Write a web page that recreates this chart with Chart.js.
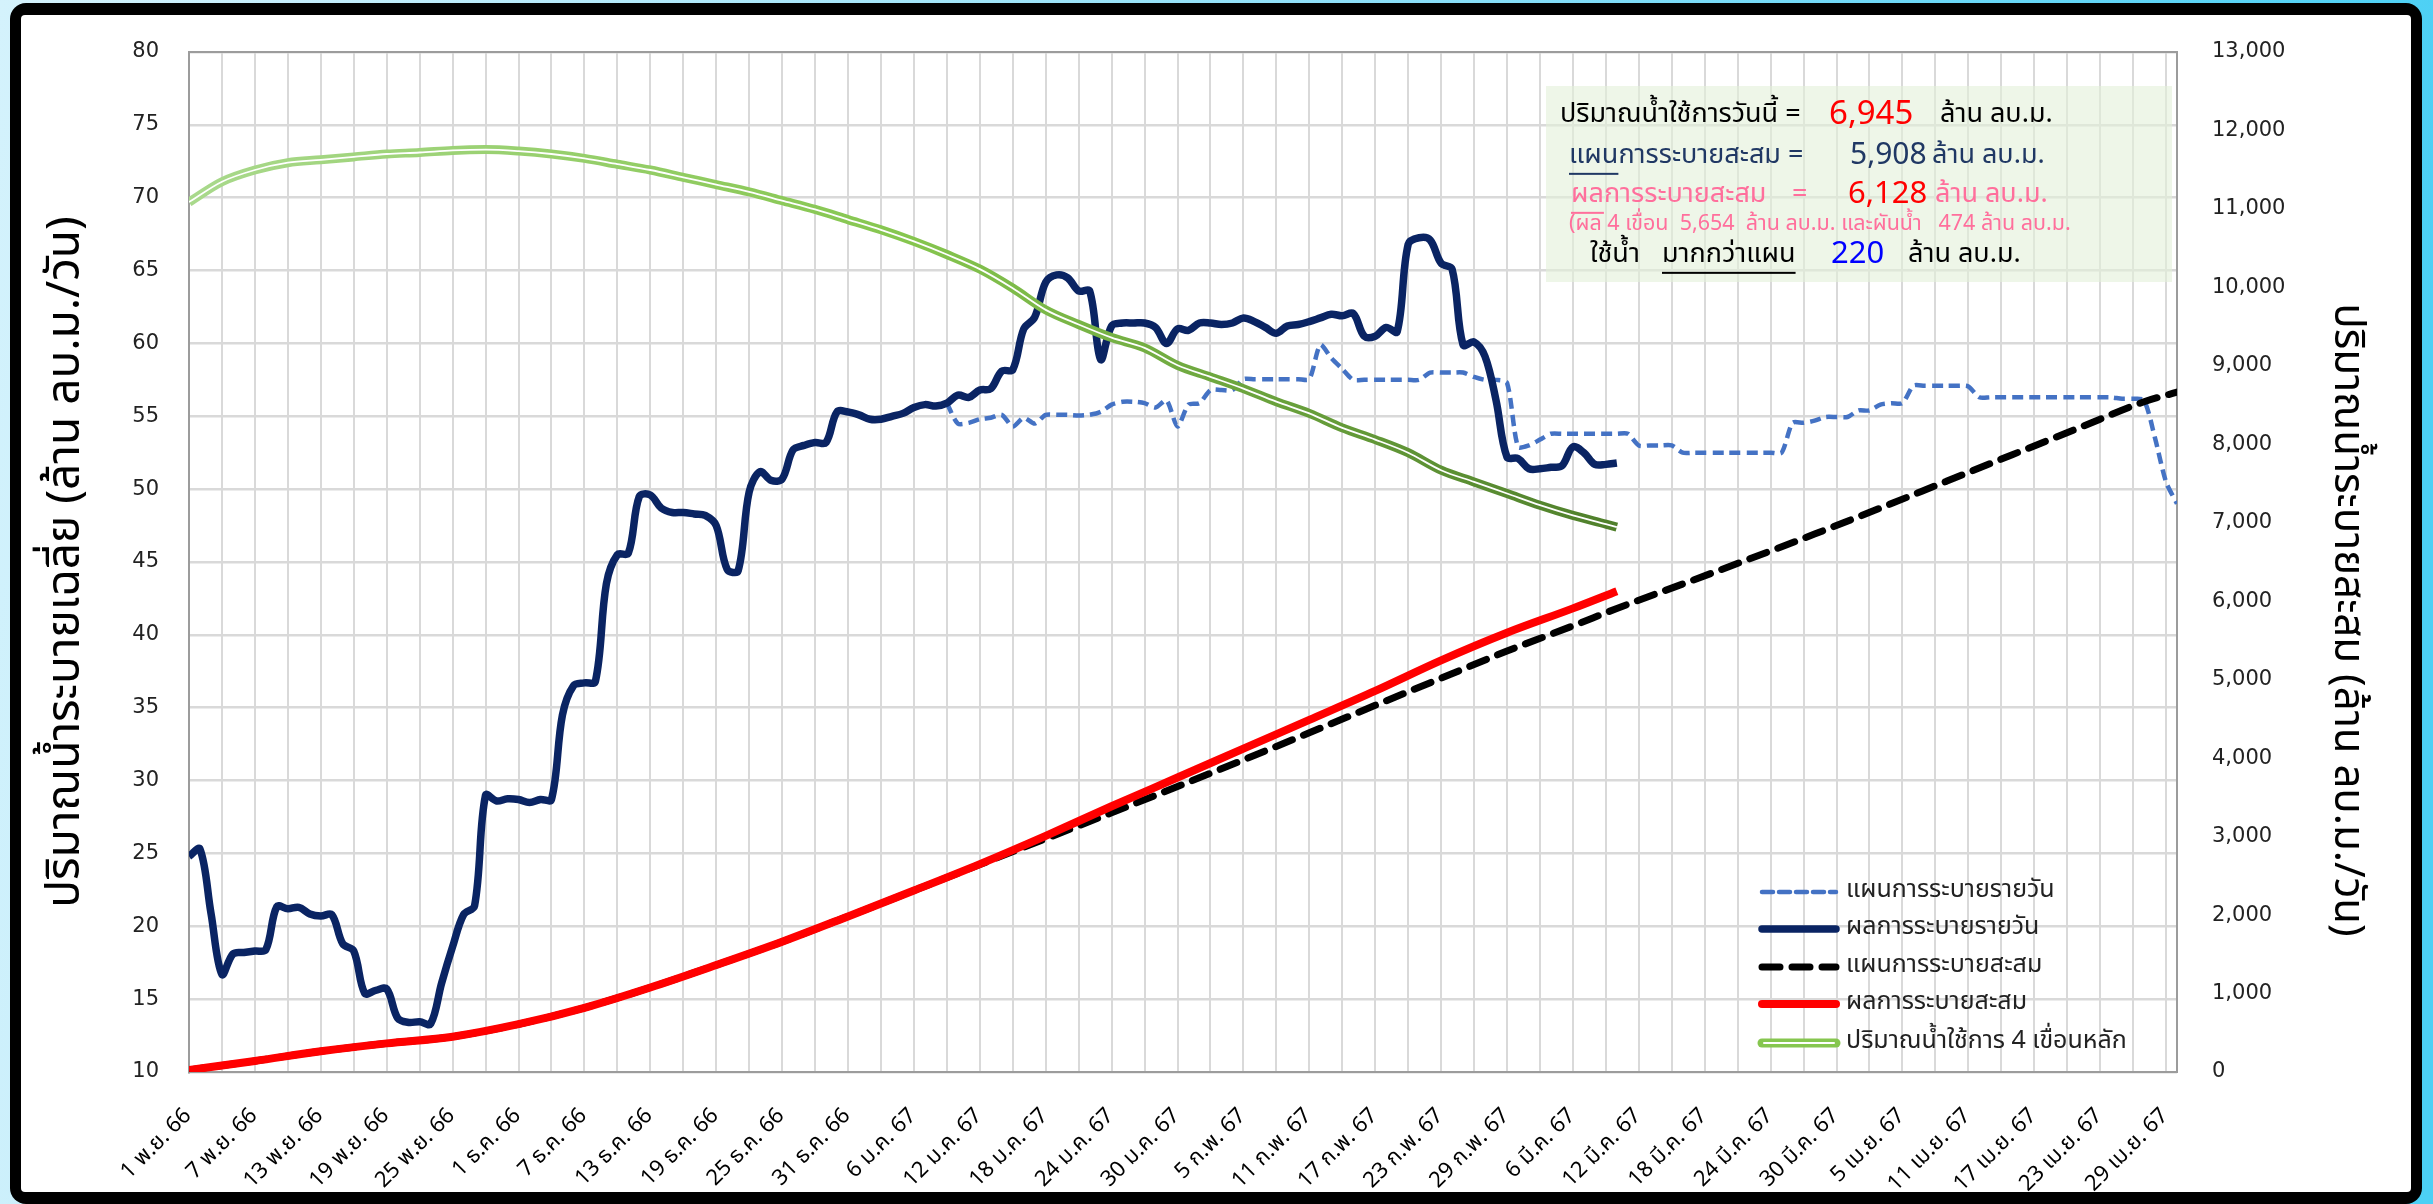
<!DOCTYPE html>
<html>
<head>
<meta charset="utf-8">
<script src="https://cdn.jsdelivr.net/npm/chart.js@4.4.1/dist/chart.umd.min.js"></script>
<style>
html, body { margin: 0; padding: 0; background: #fff; }
#wrap { width: 2433px; height: 1204px; }
</style>
</head>
<body>
<div id="wrap"><canvas id="myChart" width="2433" height="1204"></canvas></div>
<script>
// x axis: day index from 1 Nov 66, labels every 6 days
var tickLabels = [
    '1 พ.ย. 66', '7 พ.ย. 66', '13 พ.ย. 66', '19 พ.ย. 66', '25 พ.ย. 66',
    '1 ธ.ค. 66', '7 ธ.ค. 66', '13 ธ.ค. 66', '19 ธ.ค. 66', '25 ธ.ค. 66', '31 ธ.ค. 66',
    '6 ม.ค. 67', '12 ม.ค. 67', '18 ม.ค. 67', '24 ม.ค. 67', '30 ม.ค. 67',
    '5 ก.พ. 67', '11 ก.พ. 67', '17 ก.พ. 67', '23 ก.พ. 67', '29 ก.พ. 67',
    '6 มี.ค. 67', '12 มี.ค. 67', '18 มี.ค. 67', '24 มี.ค. 67', '30 มี.ค. 67',
    '5 เม.ย. 67', '11 เม.ย. 67', '17 เม.ย. 67', '23 เม.ย. 67', '29 เม.ย. 67'
];
var lastDay = 181;

// ผลการระบายรายวัน (ล้าน ลบ.ม./วัน), from day 0
var dailyResult = [
    24.8, 25.3, 20.9, 16.7, 18.1, 18.2, 18.3, 18.4, 21.35, 21.2,
    21.3, 20.85, 20.7, 20.8, 18.8, 18.3, 15.4, 15.6, 15.7, 13.7,
    13.4, 13.45, 13.3, 16.1, 18.6, 20.8, 21.4, 29.0, 28.6, 28.75,
    28.7, 28.5, 28.7, 28.7, 34.5, 36.5, 36.7, 36.8, 43.5, 45.5,
    45.6, 49.5, 49.6, 48.7, 48.4, 48.4, 48.3, 48.2, 47.5, 44.5,
    44.4, 49.8, 51.2, 50.6, 50.7, 52.7, 53.0, 53.2, 53.2, 55.3,
    55.3, 55.1, 54.8, 54.8, 55.0, 55.2, 55.6, 55.8, 55.7, 55.9,
    56.45, 56.3, 56.8, 56.9, 58.1, 58.2, 61.0, 61.8, 64.2, 64.7,
    64.5, 63.6, 63.6, 58.9, 61.2, 61.4, 61.4, 61.4, 61.1, 60.0,
    61.0, 60.9, 61.4, 61.4, 61.3, 61.4, 61.75, 61.5, 61.1, 60.7,
    61.2, 61.3, 61.5, 61.75, 62.0, 61.9, 62.05, 60.5, 60.5, 61.1,
    60.8, 66.8, 67.25, 67.1, 65.5, 65.1, 59.9, 60.1, 59.1, 56.1,
    52.2, 52.1, 51.4, 51.4, 51.5, 51.6, 52.9, 52.5, 51.7, 51.7, 51.8
];

// แผนการระบายรายวัน, from day 69
var planStart = 69;
var dailyPlan = [
    55.9, 54.5, 54.55, 54.8, 54.9, 55.1, 54.3, 54.9, 54.5, 55.1,
    55.1, 55.1, 55.05, 55.1, 55.3, 55.8, 56.0, 56.0, 55.9, 55.6,
    56.1, 54.3, 55.8, 55.9, 56.8, 56.8, 56.8, 57.55, 57.55, 57.55,
    57.55, 57.55, 57.55, 57.55, 59.9, 59.0, 58.25, 57.5, 57.5, 57.5,
    57.5, 57.5, 57.5, 57.5, 58.0, 58.0, 58.0, 58.0, 57.7, 57.5,
    57.5, 57.3, 52.9, 53.0, 53.4, 53.8, 53.8, 53.8, 53.8, 53.8,
    53.8, 53.8, 53.8, 53.0, 53.0, 53.0, 53.0, 52.5, 52.5, 52.5,
    52.5, 52.5, 52.5, 52.5, 52.5, 52.5, 52.5, 54.55, 54.55, 54.7,
    54.95, 54.95, 54.95, 55.4, 55.4, 55.8, 55.9, 55.9, 57.1, 57.1,
    57.1, 57.1, 57.1, 57.05, 56.3, 56.3, 56.3, 56.3, 56.3, 56.3,
    56.3, 56.3, 56.3, 56.3, 56.3, 56.3, 56.3, 56.2, 56.2, 56.1,
    53.5, 50.5, 49.0
];

// ผลการระบายสะสม (ล้าน ลบ.ม.)
var cumResultDays = [0, 6, 12, 18, 24, 30, 36, 42, 48, 54, 60, 66, 72, 78, 84, 90, 96, 102, 108, 114, 120, 126, 130];
var cumResult = [25, 141, 264, 365, 450, 609, 818, 1077, 1363, 1660, 1983, 2313, 2650, 3010, 3387, 3753, 4121, 4488, 4857, 5246, 5598, 5909, 6128];

// แผนการระบายสะสม (ล้าน ลบ.ม.)
var cumPlanDays = [0, 6, 12, 18, 24, 30, 36, 42, 48, 54, 60, 66, 72, 78, 84, 90, 96, 102, 108, 114, 120, 126, 130,
    136, 142, 148, 154, 160, 166, 172, 178, 181];
var cumPlan = [25, 141, 264, 365, 450, 609, 818, 1077, 1363, 1660, 1983, 2313, 2644, 2973, 3304, 3638, 3978, 4323, 4673, 5019, 5365, 5686, 5908,
    6220, 6535, 6856, 7188, 7528, 7867, 8205, 8542, 8665];

// ปริมาณน้ำใช้การ 4 เขื่อนหลัก (ล้าน ลบ.ม.)
var storageDays = [0, 3, 6, 9, 12, 15, 18, 21, 24, 27, 30, 33, 36, 39, 42, 45, 48, 51, 54, 57, 60, 63, 66, 69, 72, 75, 78,
    81, 84, 87, 90, 93, 96, 99, 102, 105, 108, 111, 114, 117, 120, 123, 126, 129, 130];
var storage = [11087, 11347, 11496, 11589, 11626, 11663, 11700, 11719, 11746, 11756, 11737, 11700, 11644, 11570, 11496,
    11403, 11310, 11217, 11106, 10994, 10864, 10734, 10586, 10419, 10233, 9990, 9713, 9527, 9360, 9230, 9007,
    8859, 8710, 8543, 8394, 8209, 8060, 7893, 7670, 7521, 7373, 7224, 7094, 6983, 6945];

var THAI = "'Noto Sans Thai', 'Leelawadee UI', Tahoma, 'Noto Sans', 'DejaVu Sans', sans-serif";
var NUM = "Tahoma, 'DejaVu Sans', sans-serif";

function series(start, values) {
    var pts = [];
    for (var i = 0; i < values.length; i++) pts.push({x: start + i, y: values[i]});
    return pts;
}

function pairs(days, values) {
    var pts = [];
    for (var i = 0; i < days.length; i++) pts.push({x: days[i], y: values[i]});
    return pts;
}

function storageColor(context) {
    var chart = context.chart;
    var area = chart.chartArea;
    if (!area) return '#92D050';
    var g = chart.ctx.createLinearGradient(area.left, 0, chart.scales.x.getPixelForValue(130), 0);
    g.addColorStop(0, '#A9D98C');
    g.addColorStop(0.5, '#86C64F');
    g.addColorStop(1, '#4F7F2B');
    return g;
}

var framePlugin = {
    id: 'frame',
    beforeDraw: function(chart) {
        var c = chart.ctx, w = chart.width, h = chart.height;
        c.save();
        var bg = c.createLinearGradient(0, 0, w, 300);
        bg.addColorStop(0, '#D4F2FC');
        bg.addColorStop(0.6, '#86DDF7');
        bg.addColorStop(1, '#4CD0F5');
        c.fillStyle = bg;
        c.fillRect(0, 0, w, h);
        c.fillStyle = '#000';
        c.beginPath();
        c.roundRect(10, 3, 2412, 1201, 16);
        c.fill();
        c.fillStyle = '#fff';
        c.beginPath();
        c.roundRect(21, 15, 2390, 1177, 4);
        c.fill();
        c.restore();
    }
};

// summary box behind the lines
var summaryPlugin = {
    id: 'summary',
    beforeDatasetsDraw: function(chart) {
        var c = chart.ctx;
        var a = chart.chartArea;
        c.save();
        c.strokeStyle = '#9C9C9C';
        c.lineWidth = 2;
        c.strokeRect(a.left, a.top, a.right - a.left, a.bottom - a.top);

        c.fillStyle = 'rgba(226, 240, 217, 0.6)';
        c.fillRect(1546, 86, 626, 196);

        var rows = [
            {y: 117, size: 27, parts: [
                ['ปริมาณน้ำใช้การวันนี้ =', '#000', 1560],
                ['6,945', '#FF0000', 1829, 33],
                ['ล้าน ลบ.ม.', '#000', 1940]]},
            {y: 158, size: 27, parts: [
                ['แผนการระบายสะสม =', '#203864', 1569, 0, 'แผน'],
                ['5,908', '#203864', 1850, 30],
                ['ล้าน ลบ.ม.', '#203864', 1932]]},
            {y: 197, size: 27, parts: [
                ['ผลการระบายสะสม', '#FF6F9C', 1571, 0, 'ผล'],
                ['=', '#FF6F9C', 1792],
                ['6,128', '#FF0000', 1848, 31],
                ['ล้าน ลบ.ม.', '#FF6F9C', 1935]]},
            {y: 226, size: 21.5, parts: [
                ['(ผล 4 เขื่อน  5,654  ล้าน ลบ.ม. และผันน้ำ   474 ล้าน ลบ.ม.', '#FF6F9C', 1569]]},
            {y: 257, size: 27, parts: [
                ['ใช้น้ำ', '#000', 1590],
                ['มากกว่าแผน', '#000', 1662, 0, 'มากกว่าแผน'],
                ['220', '#0000FF', 1831, 31],
                ['ล้าน ลบ.ม.', '#000', 1908]]}
        ];
        c.textBaseline = 'middle';
        c.textAlign = 'left';
        rows.forEach(function(row) {
            row.parts.forEach(function(p) {
                var size = p[3] || row.size;
                c.font = size + 'px ' + THAI;
                c.fillStyle = p[1];
                c.fillText(p[0], p[2], row.y);
                if (p[4]) {
                    var uw = c.measureText(p[4]).width;
                    c.fillRect(p[2], row.y + size * 0.55, uw, 2);
                }
            });
        });
        c.restore();
    }
};

var legendPlugin = {
    id: 'sideLegend',
    afterDatasetsDraw: function(chart) {
        var c = chart.ctx;
        var items = [
            {label: 'แผนการระบายรายวัน', color: '#4472C4', width: 4.5, dash: [11, 6]},
            {label: 'ผลการระบายรายวัน', color: '#0A2463', width: 7.5, dash: []},
            {label: 'แผนการระบายสะสม', color: '#000', width: 7, dash: [18, 12]},
            {label: 'ผลการระบายสะสม', color: '#FF0000', width: 8, dash: []},
            {label: 'ปริมาณน้ำใช้การ 4 เขื่อนหลัก', color: '#86C64F', width: 9, dash: [], double: true}
        ];
        var ys = [892, 929, 967, 1004, 1043];
        c.save();
        c.lineCap = 'round';
        items.forEach(function(it, i) {
            c.setLineDash(it.dash);
            c.strokeStyle = it.color;
            c.lineWidth = it.width;
            c.beginPath();
            c.moveTo(1762, ys[i]);
            c.lineTo(1836, ys[i]);
            c.stroke();
            if (it.double) {
                c.strokeStyle = '#fff';
                c.lineWidth = 2;
                c.beginPath();
                c.moveTo(1764, ys[i]);
                c.lineTo(1834, ys[i]);
                c.stroke();
            }
            c.setLineDash([]);
            c.fillStyle = '#222';
            c.font = '25px ' + THAI;
            c.textBaseline = 'middle';
            c.fillText(it.label, 1846, ys[i]);
        });
        c.restore();
    },
    afterDraw: function(chart) {
        var c = chart.ctx;
        c.save();
        c.fillStyle = '#000';
        c.textAlign = 'center';
        c.textBaseline = 'middle';
        c.font = '46px ' + THAI;
        c.translate(70, 562);
        c.rotate(-Math.PI / 2);
        c.fillText('ปริมาณน้ำระบายเฉลี่ย (ล้าน ลบ.ม./วัน)', 0, 0);
        c.restore();
        c.save();
        c.fillStyle = '#000';
        c.textAlign = 'center';
        c.textBaseline = 'middle';
        c.font = '42px ' + THAI;
        c.translate(2343, 620);
        c.rotate(Math.PI / 2);
        c.fillText('ปริมาณน้ำระบายสะสม (ล้าน ลบ.ม./วัน)', 0, 0);
        c.restore();
    }
};

var ctx = document.getElementById('myChart');
var myChart = new Chart(ctx, {
    type: 'line',
    data: {
        datasets: [{
            // white core of the double line
            data: pairs(storageDays, storage),
            yAxisID: 'y1',
            borderColor: '#FFFFFF',
            borderWidth: 1.8,
            pointRadius: 0,
            cubicInterpolationMode: 'monotone'
        }, {
            label: 'ปริมาณน้ำใช้การ 4 เขื่อนหลัก',
            data: pairs(storageDays, storage),
            yAxisID: 'y1',
            borderColor: storageColor,
            borderWidth: 9,
            pointRadius: 0,
            cubicInterpolationMode: 'monotone'
        }, {
            label: 'ผลการระบายสะสม',
            data: pairs(cumResultDays, cumResult),
            yAxisID: 'y1',
            borderColor: '#FF0000',
            borderWidth: 8,
            pointRadius: 0,
            cubicInterpolationMode: 'monotone'
        }, {
            label: 'แผนการระบายสะสม',
            data: pairs(cumPlanDays, cumPlan),
            yAxisID: 'y1',
            borderColor: '#000000',
            borderWidth: 7,
            borderDash: [18, 12],
            borderCapStyle: 'round',
            pointRadius: 0,
            cubicInterpolationMode: 'monotone'
        }, {
            label: 'ผลการระบายรายวัน',
            data: series(0, dailyResult),
            yAxisID: 'y',
            borderColor: '#0A2463',
            borderWidth: 7.5,
            pointRadius: 0,
            tension: 0.35
        }, {
            label: 'แผนการระบายรายวัน',
            data: series(planStart, dailyPlan),
            yAxisID: 'y',
            borderColor: '#4472C4',
            borderWidth: 4.5,
            borderDash: [11, 6],
            pointRadius: 0,
            tension: 0.25
        }]
    },
    options: {
        responsive: false,
        animation: false,
        layout: {
            padding: {left: 20, top: 52, right: 106, bottom: 2}
        },
        plugins: {
            legend: {display: false},
            tooltip: {enabled: false}
        },
        scales: {
            x: {
                type: 'linear',
                min: 0,
                max: lastDay,
                afterBuildTicks: function(scale) {
                    var t = [];
                    for (var d = 0; d <= 180; d += 3) t.push({value: d});
                    scale.ticks = t;
                },
                afterFit: function(scale) { scale.height = 130; },
                grid: {color: '#D9D9D9', lineWidth: 2, drawTicks: false},
                border: {display: false},
                ticks: {
                    autoSkip: false,
                    minRotation: 45,
                    maxRotation: 45,
                    padding: 32,
                    color: '#000',
                    font: {family: THAI, size: 22},
                    callback: function(v) { return v % 6 === 0 ? tickLabels[v / 6] : ''; }
                }
            },
            y: {
                position: 'left',
                min: 10,
                max: 80,
                afterFit: function(scale) { scale.width = 169; },
                grid: {color: '#D9D9D9', lineWidth: 2.5, drawTicks: false},
                border: {display: true, color: '#868686', width: 2},
                ticks: {
                    stepSize: 5,
                    padding: 30,
                    color: '#222',
                    font: {family: NUM, size: 21}
                }
            },
            y1: {
                position: 'right',
                min: 0,
                max: 13000,
                afterFit: function(scale) { scale.width = 150; },
                grid: {display: false, drawTicks: false},
                border: {display: true, color: '#9C9C9C', width: 2},
                ticks: {
                    stepSize: 1000,
                    padding: 35,
                    color: '#222',
                    font: {family: NUM, size: 21},
                    callback: function(v) { return v.toLocaleString('en-US'); }
                }
            }
        }
    },
    plugins: [framePlugin, summaryPlugin, legendPlugin]
});
</script>
</body>
</html>
